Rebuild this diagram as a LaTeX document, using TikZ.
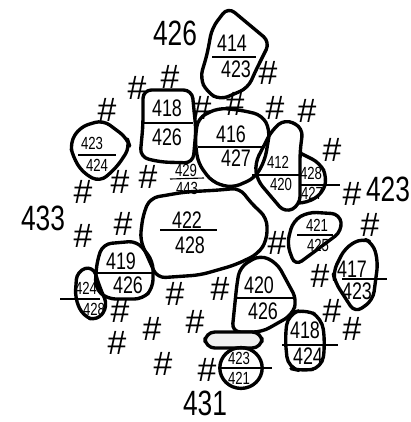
\documentclass[tikz,border=0pt]{standalone}
\usepackage{graphicx}
\usepackage{fontspec}
\setmainfont{Liberation Sans}
\newcommand{\handnum}[1]{\scalebox{0.75}[1]{#1}}

\begin{document}
\begin{tikzpicture}[x=0.025cm, y=-0.025cm,
    blob/.style={line width=2.4pt, rounded corners=6pt, line join=round},
    bar/.style={line width=0.8pt},
    num/.style={inner sep=0pt, font=\fontsize{17}{17}\selectfont},
    small/.style={inner sep=0pt, font=\fontsize{12.5}{12.5}\selectfont},
    hash/.style={inner sep=0pt, font=\fontsize{24}{24}\selectfont},
    tag/.style={inner sep=0pt, font=\fontsize{25}{25}\selectfont}]
  \useasboundingbox (0,0) rectangle (410,422);
  % --- outlines ---
  \draw[blob] (228,7) -- (270,42) -- (256,70) -- (248,88) -- (220,100) -- (207,92) -- (200,78) -- (207,55) -- (212,28) -- cycle;
  \draw[blob] (143,90) -- (192,90) -- (196,130) -- (193,163) -- (160,162) -- (140,157) -- (143,125) -- cycle;
  \draw[blob] (80,127) -- (103,120) -- (127,138) -- (130,147) -- (117,167) -- (100,182) -- (83,173) -- (73,157) -- (70,143) -- cycle;
  \draw[blob] (198,118) -- (218,108) -- (240,110) -- (262,115) -- (270,130) -- (265,160) -- (255,178) -- (232,188) -- (212,182) -- (198,163) -- (195,140) -- cycle;
  \draw[blob] (272,130) -- (285,119) -- (303,128) -- (300,152) -- (300,205) -- (285,213) -- (257,180) -- (255,163) -- cycle;
  \draw[blob] (300,153) -- (320,163) -- (327,177) -- (323,193) -- (307,203) -- (300,203);
  \draw[blob] (293,221) -- (308,212) -- (340,214) -- (342,231) -- (318,249) -- (295,266) -- (287,244) -- cycle;
  \draw[blob] (345,248) -- (362,238) -- (373,243) -- (378,262) -- (373,300) -- (355,313) -- (335,282) -- (333,272) -- cycle;
  \draw[blob] (150,198) -- (185,192) -- (220,190) -- (240,188) -- (250,202) -- (267,218) -- (267,240) -- (258,254) -- (235,265) -- (200,275) -- (157,278) -- (150,262) -- (140,240) -- (143,215) -- cycle;
  \draw[blob] (103,244) -- (137,241) -- (153,261) -- (153,288) -- (143,299) -- (107,299) -- (95,288) -- (97,261) -- cycle;
  \draw[blob] (77,271) -- (93,266) -- (100,288) -- (108,306) -- (97,321) -- (83,316) -- (75,298) -- cycle;
  \draw[blob] (240,267) -- (260,255) -- (277,263) -- (297,300) -- (292,315) -- (262,332) -- (232,332) -- (237,283) -- cycle;
  \draw[blob, fill=gray!12, rounded corners=7pt] (205,332) rectangle (262,348);
  \draw[blob] (241,368) ellipse [x radius=0.53cm, y radius=0.51cm];
  \draw[blob, rounded corners=8pt] (288,314) -- (305,309) -- (322,318) -- (325,344) -- (322,368) -- (302,371) -- (288,368) -- (285,338) -- cycle;
  % --- fractions ---
  \node[num] (n414) at (232,43) {\handnum{414}};
  \node[num] (d414) at (236,69) {\handnum{423}};
  \draw[bar] (212,57) -- (256,57);
  \node[num] (n418) at (167,108) {\handnum{418}};
  \node[num] (d418) at (167,137) {\handnum{426}};
  \draw[bar] (143,123) -- (193,123);
  \node[small] (n423) at (92,143) {\handnum{423}};
  \node[small] (d423) at (97,165) {\handnum{424}};
  \draw[bar] (78,155) -- (116,155);
  \node[small] (n429) at (186,170) {\handnum{429}};
  \node[small] (d429) at (187,188) {\handnum{443}};
  \draw[bar] (170,179) -- (204,178);
  \node[num] (n416) at (231,134) {\handnum{416}};
  \node[num] (d416) at (236,158) {\handnum{427}};
  \draw[bar] (198,147) -- (262,147);
  \node[small] (n412) at (278,162) {\handnum{412}};
  \node[small] (d412) at (281,184) {\handnum{420}};
  \draw[bar] (252,175) -- (301,175);
  \node[small] (n428) at (311,173) {\handnum{428}};
  \node[small] (d428) at (312,193) {\handnum{427}};
  \draw[bar] (299,185) -- (340,185);
  \node[small] (n421) at (317,225) {\handnum{421}};
  \node[small] (d421) at (318,245) {\handnum{425}};
  \draw[bar] (297,235) -- (333,235);
  \node[num] (n417) at (352,269) {\handnum{417}};
  \node[num] (d417) at (357,291) {\handnum{423}};
  \draw[bar] (342,279) -- (387,279);
  \node[num] (n422) at (187,220) {\handnum{422}};
  \node[num] (d422) at (190,245) {\handnum{428}};
  \draw[bar] (160,230) -- (217,230);
  \node[num] (n419) at (121,261) {\handnum{419}};
  \node[num] (d419) at (128,285) {\handnum{426}};
  \draw[bar] (97,273) -- (154,273);
  \node[small] (n424) at (86,288) {\handnum{424}};
  \node[small] (d424) at (94,309) {\handnum{428}};
  \draw[bar] (60,299) -- (100,299);
  \node[num] (n420) at (259,285) {\handnum{420}};
  \node[num] (d420) at (263,311) {\handnum{426}};
  \draw[bar] (236,298) -- (296,298);
  \node[small] (n431) at (239,358) {\handnum{423}};
  \node[small] (d431) at (239,378) {\handnum{421}};
  \draw[bar] (220,368) -- (272,368);
  \node[num] (n418b) at (305,330) {\handnum{418}};
  \node[num] (d418b) at (308,356) {\handnum{424}};
  \draw[bar] (282,345) -- (338,345);
  % --- outside numbers ---
  \node[tag] (t426) at (175,33) {\handnum{426}};
  \node[tag] (t433) at (43,218) {\handnum{433}};
  \node[tag] (t423) at (388,189) {\handnum{423}};
  \node[tag] (t431) at (205,403) {\handnum{431}};
  % --- hashes ---
  \node[hash] (h1) at (170,77) {\#};
  \node[hash] (h2) at (137,88) {\#};
  \node[hash] (h3) at (107,110) {\#};
  \node[hash] (h4) at (202,108) {\#};
  \node[hash] (h5) at (235,104) {\#};
  \node[hash] (h6) at (275,108) {\#};
  \node[hash] (h7) at (307,111) {\#};
  \node[hash] (h8) at (268,73) {\#};
  \node[hash] (h9) at (332,150) {\#};
  \node[hash] (h10) at (352,194) {\#};
  \node[hash] (h11) at (370,225) {\#};
  \node[hash] (h12) at (277,243) {\#};
  \node[hash] (h13) at (320,276) {\#};
  \node[hash] (h14) at (332,311) {\#};
  \node[hash] (h15) at (352,329) {\#};
  \node[hash] (h16) at (220,289) {\#};
  \node[hash] (h17) at (175,294) {\#};
  \node[hash] (h18) at (195,322) {\#};
  \node[hash] (h19) at (120,311) {\#};
  \node[hash] (h20) at (152,329) {\#};
  \node[hash] (h21) at (117,343) {\#};
  \node[hash] (h22) at (163,364) {\#};
  \node[hash] (h23) at (207,370) {\#};
  \node[hash] (h24) at (83,236) {\#};
  \node[hash] (h25) at (123,224) {\#};
  \node[hash] (h26) at (83,192) {\#};
  \node[hash] (h27) at (120,182) {\#};
  \node[hash] (h28) at (148,177) {\#};
\end{tikzpicture}
\end{document}
